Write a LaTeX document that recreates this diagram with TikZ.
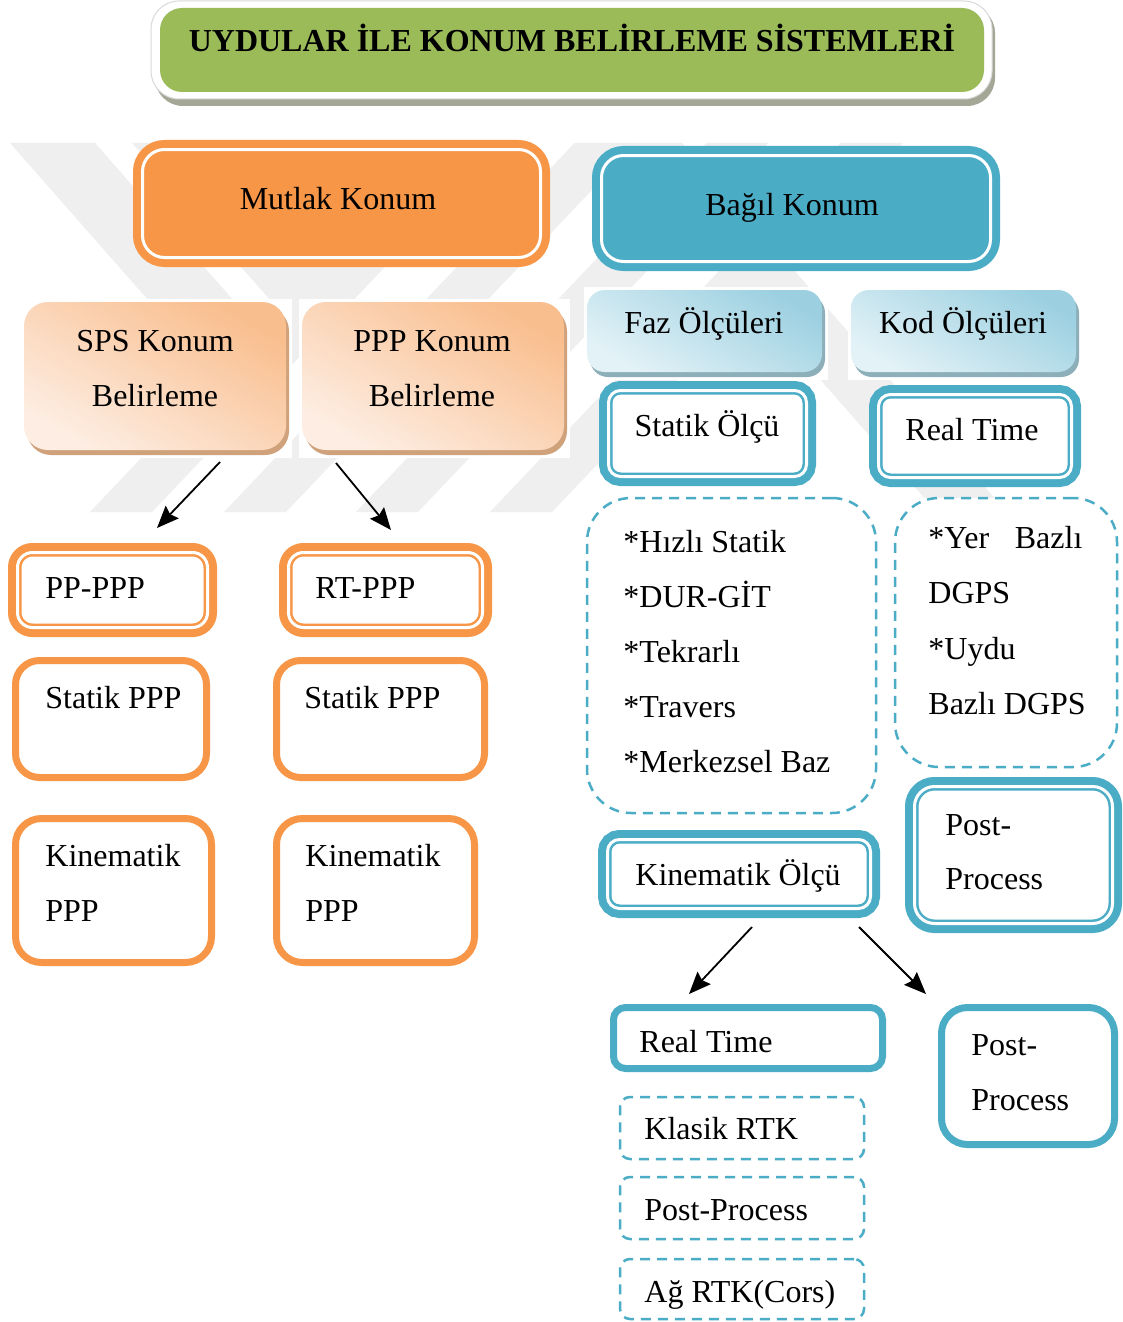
\documentclass[tikz,border=0pt]{standalone}
\usepackage{fontspec}
\setmainfont{Liberation Serif}
\usetikzlibrary{arrows.meta}
\definecolor{orng}{HTML}{F79646}
\definecolor{blu}{HTML}{4BACC6}
\definecolor{grn}{HTML}{9BBB59}
\definecolor{wmark}{HTML}{EFEFEF}
\definecolor{peachdark}{HTML}{F9BE8E}
\definecolor{peachmid}{HTML}{FCE0CB}
\definecolor{peachlight}{HTML}{FDEDE2}
\definecolor{peachshadow}{HTML}{CFA27C}
\definecolor{skydark}{HTML}{9CD0E1}
\definecolor{skymid}{HTML}{D5ECF3}
\definecolor{skylight}{HTML}{E3F2F7}
\definecolor{skyshadow}{HTML}{8DAFB9}
\definecolor{titleshadow}{HTML}{A4A796}
\definecolor{rimline}{HTML}{D9D9D9}

% box node spanning (x1,y1)-(x2,y2) in pixel units
\newcommand\boxnode[6]{%
  \node[#6, inner sep=0pt, minimum width={(#4-#2)*0.5pt}, minimum height={(#5-#3)*0.5pt}]
    (#1) at ({(#2+#4)/2},{(#3+#5)/2}) {};}
% stacked lines sharing the first baseline
\newcommand\leftlines[2]{\parbox[t]{#1}{\raggedright #2}}
\newcommand\midlines[2]{\parbox[t]{#1}{\centering #2}}

\begin{document}
\begin{tikzpicture}[x=0.5pt, y=-0.5pt,
  txt/.style={font=\fontsize{16}{27.5}\selectfont, inner sep=0pt},
  filled/.style={fill=#1, draw=#1, line width=4pt, double=white, double distance=1.5pt},
  twoline/.style={preaction={draw=#1, line width=9.5pt}, fill=white, draw=#1,
                  line width=1.25pt, double=white, double distance=1.5pt},
  thickline/.style={draw=#1, line width=3.5pt, fill=white},
  dashbox/.style={draw=blu, line width=1.25pt, dash pattern=on 5pt off 3.5pt},
  peach/.style={preaction={fill=peachshadow, transform canvas={xshift=1.5pt, yshift=-2.5pt}},
                top color=peachdark, middle color=peachmid, bottom color=peachlight,
                shading angle=-30},
  sky/.style={preaction={fill=skyshadow, transform canvas={xshift=1.5pt, yshift=-2.5pt}},
              top color=skydark, middle color=skymid, bottom color=skylight,
              shading angle=-30},
  arr/.style={-{Stealth[length=11pt, width=9pt, inset=1.5pt]}, line width=0.9pt},
]
\useasboundingbox (0,0) rectangle (1123,1322);
\fill[white] (0,0) rectangle (1123,1322);

% faint striped emblem in the background
\begin{scope}
  \clip (0,143) rectangle (1000,302);
  \foreach \a in {10,132}
    \fill[wmark] (\a,143) -- ++(85,0) -- ++(324.7,369) -- ++(-85,0) -- cycle;
\end{scope}
\begin{scope}
  \clip (0,143) rectangle (1000,512);
  \foreach \a in {90,224,356,490}
    \fill[wmark] (\a,512) -- ++(62,0) -- ++(350.6,-369) -- ++(-62,0) -- cycle;
\end{scope}
\begin{scope}
  \clip (0,143) rectangle (1000,497);
  \fill[wmark] (612,143) -- ++(70,0) -- ++(324.7,369) -- ++(-70,0) -- cycle;
\end{scope}

% title banner
\fill[titleshadow, rounded corners=14pt] (155,5) rectangle (995,106);
\draw[rimline, fill=white, line width=0.5pt, rounded corners=14pt] (151,1) rectangle (992,99);
\boxnode{titlebox}{160}{8}{984}{92}{fill=grn, rounded corners=11pt}
\node[txt, anchor=base] (titletxt) at (572,52) {\bfseries UYDULAR İLE KONUM BELİRLEME SİSTEMLERİ};

% ---------- absolute positioning ----------
\boxnode{mutlak}{142.5}{149.5}{540.5}{257.5}{filled=orng, rounded corners=11pt}
\node[txt, anchor=base] (mutlaktxt) at (338,209) {Mutlak Konum};

\fill[white] (21,299) rectangle (292,458);
\fill[white] (299,299) rectangle (570,458);
\boxnode{sps}{24}{302}{286}{450}{peach, rounded corners=12pt}
\boxnode{ppp}{302}{302}{564}{450}{peach, rounded corners=12pt}
\node[txt, anchor=base] (spstxt) at (155,351) {\midlines{130pt}{SPS Konum\\Belirleme}};
\node[txt, anchor=base] (ppptxt) at (432,351) {\midlines{130pt}{PPP Konum\\Belirleme}};

\coordinate (a1s) at (220,462); \coordinate (a1e) at (157,528);
\coordinate (a2s) at (336,463); \coordinate (a2e) at (391,530);
\draw[arr] (a1s) -- (a1e);
\draw[arr] (a2s) -- (a2e);

\boxnode{pp}{17.5}{552.5}{207.5}{627.5}{twoline=orng, rounded corners=7.5pt}
\boxnode{rt}{288.5}{552.5}{482.5}{627.5}{twoline=orng, rounded corners=7.5pt}
\node[txt, anchor=base west] (pptxt) at (45,598) {PP-PPP};
\node[txt, anchor=base west] (rttxt) at (315,598) {RT-PPP};

\boxnode{statl}{15.5}{660.5}{206.5}{777.5}{thickline=orng, rounded corners=12pt}
\boxnode{statr}{276.5}{660.5}{484.5}{777.5}{thickline=orng, rounded corners=12pt}
\node[txt, anchor=base west] (statltxt) at (45,708) {Statik PPP};
\node[txt, anchor=base west] (statrtxt) at (304,708) {Statik PPP};

\boxnode{kinl}{15.5}{818.5}{211.5}{962.5}{thickline=orng, rounded corners=13pt}
\boxnode{kinr}{276.5}{818.5}{474.5}{962.5}{thickline=orng, rounded corners=13pt}
\node[txt, anchor=base west] (kinltxt) at (45,866) {\leftlines{90pt}{Kinematik\\PPP}};
\node[txt, anchor=base west] (kinrtxt) at (305,866) {\leftlines{90pt}{Kinematik\\PPP}};

% ---------- relative positioning ----------
\boxnode{bagil}{601.5}{155.5}{990.5}{261.5}{filled=blu, rounded corners=11pt}
\node[txt, anchor=base] (bagiltxt) at (792,215) {Bağıl Konum};

\fill[white] (584,287) rectangle (828,380);
\fill[white] (848,287) rectangle (1082,380);
\boxnode{faz}{587}{290}{822}{372}{sky, rounded corners=9pt}
\boxnode{kod}{851}{290}{1076}{372}{sky, rounded corners=9pt}
\node[txt, anchor=base] (faztxt) at (704,333) {Faz Ölçüleri};
\node[txt, anchor=base] (kodtxt) at (963,333) {Kod Ölçüleri};

\boxnode{statik}{608.5}{390.5}{806.5}{476.5}{twoline=blu, rounded corners=6pt}
\boxnode{realtop}{878.5}{394.5}{1071.5}{477.5}{twoline=blu, rounded corners=6pt}
\node[txt, anchor=base] (statiktxt) at (707,436) {Statik Ölçü};
\node[txt, anchor=base west] (realtoptxt) at (905,440) {Real Time};

\boxnode{fazlist}{587}{498}{876}{813}{dashbox, rounded corners=22pt}
\node[txt, anchor=base west, font=\fontsize{16}{27.6}\selectfont] (fazlisttxt) at (623,552)
  {\leftlines{140pt}{*Hızlı Statik\\{}*DUR-GİT\\{}*Tekrarlı\\{}*Travers\\{}*Merkezsel Baz}};

\boxnode{kodlist}{895}{498}{1117}{767}{dashbox, rounded corners=22pt}
\node[txt, anchor=base west, font=\fontsize{16}{27.75}\selectfont] (kodlisttxt) at (928,548)
  {\leftlines{95pt}{\makebox[77pt][s]{*Yer\hfill Bazlı}\\DGPS\\{}*Uydu\\Bazlı DGPS}};

\boxnode{postmid}{914.5}{786.5}{1112.5}{923.5}{twoline=blu, rounded corners=10pt}
\node[txt, anchor=base west, font=\fontsize{16}{27}\selectfont] (postmidtxt) at (945,835)
  {\leftlines{80pt}{Post-\\Process}};

\boxnode{kinem}{607.5}{839.5}{870.5}{908.5}{twoline=blu, rounded corners=6pt}
\node[txt, anchor=base west] (kinemtxt) at (635,885) {Kinematik Ölçü};

\coordinate (b1s) at (752,927); \coordinate (b1e) at (689,994);
\coordinate (b2s) at (859,927); \coordinate (b2e) at (926,994);
\draw[arr] (b1s) -- (b1e);
\draw[arr] (b2s) -- (b2e);

\boxnode{realbot}{613.5}{1007.5}{882.5}{1068.5}{thickline=blu, rounded corners=6pt}
\node[txt, anchor=base west] (realbottxt) at (639,1052) {Real Time};

\boxnode{postbot}{941.5}{1007.5}{1114.5}{1144.5}{thickline=blu, rounded corners=13pt}
\node[txt, anchor=base west] (postbottxt) at (971,1055) {\leftlines{80pt}{Post-\\Process}};

\boxnode{klasik}{620}{1097}{864}{1159}{dashbox, rounded corners=5pt}
\boxnode{postdash}{620}{1177}{864}{1239}{dashbox, rounded corners=5pt}
\boxnode{agrtk}{620}{1259}{864}{1319}{dashbox, rounded corners=5pt}
\node[txt, anchor=base west] (klasiktxt) at (644,1139) {Klasik RTK};
\node[txt, anchor=base west] (postdashtxt) at (644,1220) {Post-Process};
\node[txt, anchor=base west] (agrtktxt) at (644,1302) {Ağ RTK(Cors)};
\end{tikzpicture}
\end{document}
